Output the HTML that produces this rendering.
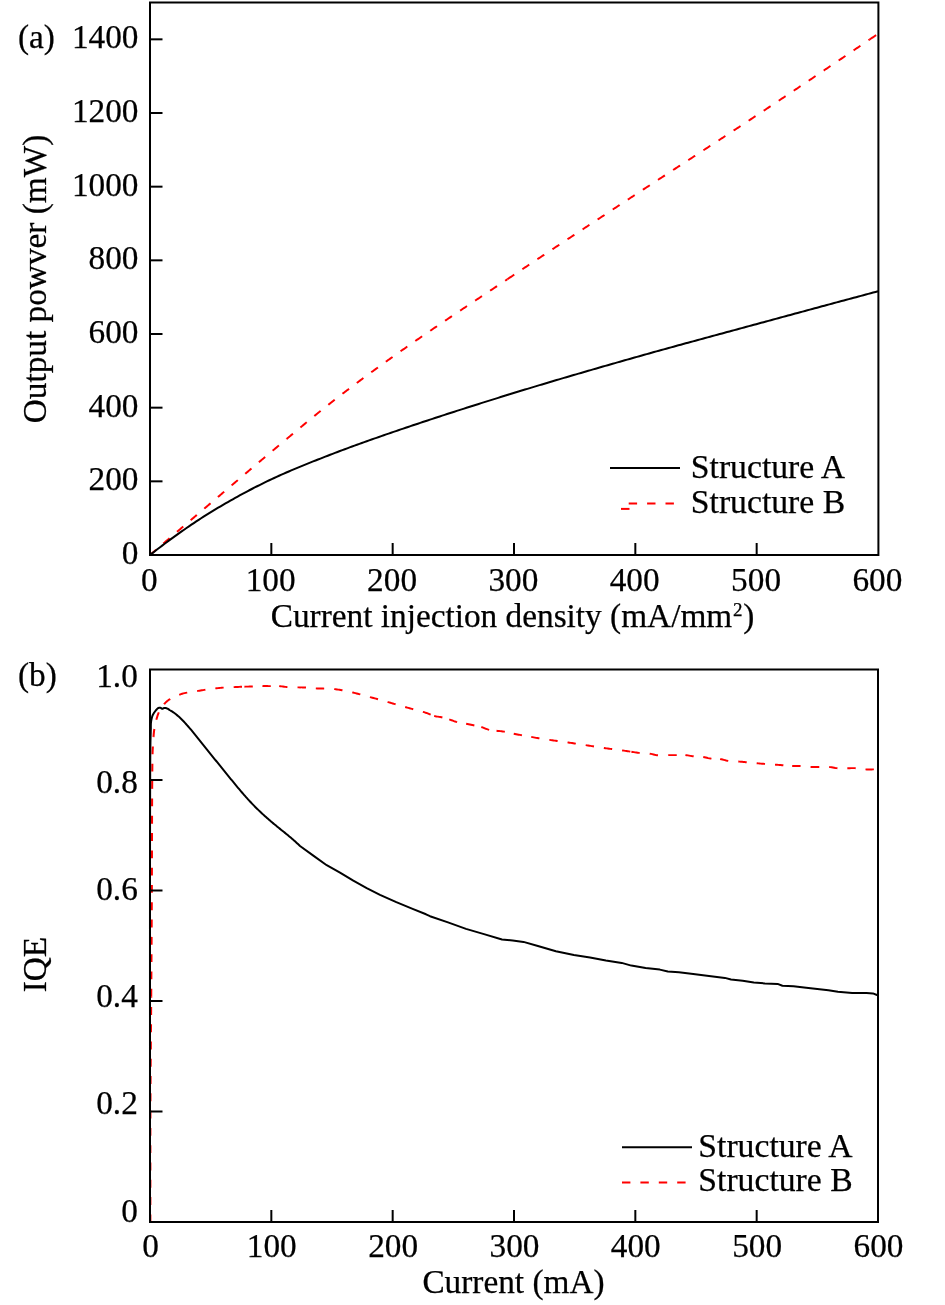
<!DOCTYPE html>
<html><head><meta charset="utf-8"><style>
html,body{margin:0;padding:0;background:#fff;width:945px;height:1305px;overflow:hidden}
</style></head><body>
<svg width="945" height="1305" viewBox="0 0 945 1305" style="position:absolute;left:0;top:0;will-change:transform">
<rect width="945" height="1305" fill="#fff"/>
<g font-family="'Liberation Serif', serif" font-size="33.3" fill="#000" stroke="#000" stroke-width="0.25">
<g transform="scale(1.0222,0.9611)" fill="none" stroke="#ff0000" stroke-width="2.0" stroke-dasharray="8.2 9.8">
<path d="M146.74,577.46 L147.48,576.78 L148.23,576.11 L148.97,575.43 L149.71,574.75 L150.45,574.07 L151.19,573.39 L151.94,572.71 L152.68,572.03 L153.42,571.35 L154.16,570.68 L154.91,570.00 L155.65,569.32 L156.39,568.64 L157.13,567.96 L157.88,567.28 L158.62,566.61 L159.36,565.93 L160.10,565.25 L160.85,564.57 L161.59,563.90 L162.33,563.22 L163.08,562.54 L163.82,561.86 L164.56,561.19 L165.31,560.51 L166.05,559.83 L166.79,559.16 L167.54,558.48 L168.28,557.80 L169.02,557.12 L169.77,556.45 L170.51,555.77 L171.26,555.10 L172.00,554.42 L172.74,553.74 L173.49,553.07 L174.23,552.39 L174.98,551.71 L175.72,551.04 L176.47,550.36 L177.21,549.69 L177.95,549.01 L178.70,548.34 L179.44,547.66 L180.19,546.98 L180.93,546.31 L181.68,545.63 L182.42,544.96 L183.17,544.28 L183.92,543.61 L184.66,542.94 L185.41,542.26 L186.15,541.59 L186.90,540.91 L187.64,540.24 L188.39,539.56 L189.13,538.89 L189.88,538.22 L190.63,537.54 L191.37,536.87 L192.12,536.19 L192.86,535.52 L193.61,534.85 L194.36,534.17 L195.10,533.50 L195.85,532.82 L196.60,532.15 L197.34,531.48 L198.09,530.80 L198.83,530.13 L199.58,529.46 L200.33,528.78 L201.07,528.11 L201.82,527.44 L202.57,526.76 L203.31,526.09 L204.06,525.42 L204.80,524.74 L205.55,524.07 L206.30,523.39 L207.04,522.72 L207.79,522.05 L208.53,521.37 L209.28,520.70 L210.03,520.02 L210.77,519.35 L211.52,518.68 L212.26,518.00 L213.01,517.33 L213.75,516.65 L214.50,515.98 L215.24,515.30 L215.99,514.63 L216.74,513.95 L217.48,513.28 L218.23,512.60 L218.97,511.93 L219.72,511.25 L220.46,510.58 L221.21,509.90 L221.95,509.23 L222.70,508.55 L223.44,507.88 L224.19,507.20 L224.93,506.53 L225.68,505.85 L226.42,505.18 L227.17,504.50 L227.91,503.83 L228.66,503.15 L229.40,502.48 L230.15,501.80 L230.89,501.13 L231.64,500.45 L232.38,499.78 L233.13,499.10 L233.87,498.43 L234.62,497.76 L235.37,497.08 L236.11,496.41 L236.86,495.73 L237.60,495.06 L238.35,494.38 L239.09,493.71 L239.84,493.04 L240.59,492.36 L241.33,491.69 L242.08,491.02 L242.83,490.34 L243.57,489.67 L244.32,489.00 L245.06,488.32 L245.81,487.65 L246.56,486.98 L247.31,486.30 L248.05,485.63 L248.80,484.96 L249.55,484.29 L250.30,483.62 L251.04,482.94 L251.79,482.27 L252.54,481.60 L253.29,480.93" stroke-dashoffset="0.23"/>
<path d="M253.29,480.93 L254.04,480.26 L254.78,479.59 L255.53,478.92 L256.28,478.25 L257.03,477.58 L257.78,476.91 L258.53,476.24 L259.28,475.57 L260.03,474.90 L260.78,474.23 L261.53,473.56 L262.28,472.89 L263.03,472.22 L263.78,471.56 L264.53,470.89 L265.28,470.22 L266.03,469.55 L266.78,468.89" stroke-dashoffset="0.00"/>
<path d="M266.78,468.89 L267.53,468.22 L268.29,467.55 L269.04,466.88 L269.79,466.21 L270.54,465.55 L271.29,464.88 L272.04,464.21 L272.79,463.54 L273.54,462.87 L274.29,462.20 L275.04,461.53 L275.79,460.87 L276.54,460.20 L277.29,459.53 L278.04,458.86 L278.79,458.19 L279.54,457.52 L280.29,456.85 L280.48,456.69" stroke-dashoffset="0.00"/>
<path d="M280.48,456.69 L281.23,456.02 L281.98,455.35 L282.73,454.68 L283.48,454.01 L284.23,453.34 L284.98,452.67 L285.73,452.01 L286.48,451.34 L287.23,450.67 L287.98,450.00 L288.73,449.34 L289.48,448.67 L290.24,448.00 L290.99,447.34 L291.74,446.67 L292.49,446.00 L293.24,445.34 L294.00,444.67 L294.75,444.01 L295.50,443.34 L296.26,442.68 L297.01,442.01 L297.76,441.35 L298.52,440.68 L299.27,440.02 L300.03,439.36 L300.78,438.70 L301.54,438.03 L302.29,437.37 L303.05,436.71 L303.81,436.05 L304.56,435.39 L305.32,434.73 L306.08,434.07 L306.84,433.42 L307.59,432.76 L308.35,432.10 L309.11,431.44 L309.87,430.79 L310.63,430.13 L311.39,429.48 L312.16,428.82 L312.92,428.17 L313.68,427.52 L314.44,426.87 L315.21,426.21 L315.97,425.56 L316.74,424.91 L317.50,424.26 L318.27,423.62 L319.03,422.97 L319.80,422.32 L320.57,421.68 L321.34,421.03 L322.10,420.39 L322.87,419.74 L323.64,419.10 L324.42,418.46 L325.19,417.82 L325.96,417.18 L326.73,416.54 L327.50,415.90 L328.28,415.26 L329.05,414.63 L329.83,413.99 L330.60,413.35 L331.38,412.72 L332.15,412.08 L332.93,411.45 L333.70,410.82 L334.48,410.18 L335.26,409.55 L336.04,408.92 L336.81,408.29 L337.59,407.66 L338.37,407.03 L339.15,406.40 L339.93,405.77 L340.71,405.14 L341.49,404.51 L342.27,403.88 L343.05,403.25 L343.84,402.63 L344.62,402.00 L345.40,401.38 L346.18,400.75 L346.97,400.13 L347.75,399.50 L348.53,398.88 L349.32,398.26 L350.10,397.64 L350.89,397.01 L351.67,396.39 L352.46,395.77 L353.24,395.15 L354.03,394.53 L354.82,393.91 L355.60,393.29 L356.39,392.67 L357.18,392.06 L357.97,391.44 L358.76,390.82 L359.55,390.21 L360.33,389.59 L361.12,388.98 L361.91,388.36 L362.70,387.75 L363.49,387.13 L364.28,386.52 L365.08,385.91 L365.87,385.29 L366.66,384.68 L367.45,384.07 L368.24,383.46 L369.03,382.85 L369.83,382.24 L370.62,381.63 L371.41,381.02 L372.21,380.41 L373.00,379.80 L373.80,379.19 L374.59,378.58 L375.38,377.97 L376.18,377.37 L376.97,376.76 L377.77,376.15 L378.57,375.55 L379.36,374.94 L380.16,374.34 L380.95,373.73 L381.75,373.13 L382.55,372.52 L383.35,371.92 L384.14,371.31 L384.94,370.71 L385.74,370.11 L386.54,369.51 L387.54,368.75 L388.53,368.00 L389.53,367.25 L390.53,366.50 L391.53,365.75 L392.53,365.00 L393.54,364.26 L394.54,363.51 L395.54,362.76 L396.54,362.02 L397.54,361.27 L398.55,360.53 L399.55,359.78 L400.56,359.04 L401.56,358.30 L402.57,357.55 L403.57,356.81 L404.58,356.07 L405.58,355.33 L406.59,354.59 L407.60,353.85 L408.60,353.11 L409.61,352.37 L410.62,351.64 L411.63,350.90 L412.64,350.16 L413.64,349.43 L414.65,348.69 L415.66,347.96 L416.67,347.22 L417.68,346.49 L418.69,345.75 L419.70,345.02 L420.72,344.29 L421.73,343.56 L422.74,342.82 L423.75,342.09 L424.76,341.36 L425.78,340.63 L426.79,339.90 L427.80,339.17 L428.81,338.44 L429.83,337.71 L430.84,336.99 L431.86,336.26 L432.87,335.53 L433.89,334.80 L434.90,334.08 L435.92,333.35 L436.93,332.62 L437.95,331.90 L438.96,331.17 L439.98,330.45 L440.99,329.72 L442.01,329.00 L443.03,328.27 L444.04,327.55 L445.06,326.83 L446.08,326.10 L447.09,325.38 L448.11,324.66 L449.13,323.93 L450.15,323.21 L451.16,322.49 L452.18,321.77 L453.20,321.04 L454.22,320.32 L455.24,319.60 L456.25,318.88 L457.27,318.16 L458.29,317.44 L459.31,316.72 L460.33,316.00 L461.35,315.28 L462.36,314.56 L463.38,313.84 L464.40,313.11 L465.42,312.39 L466.44,311.67 L467.46,310.95 L468.48,310.23 L469.50,309.51 L470.52,308.79 L471.54,308.07 L472.56,307.36 L473.58,306.64 L474.59,305.92 L475.61,305.20 L476.63,304.48 L477.65,303.76 L478.67,303.04 L479.69,302.32 L480.71,301.60 L481.73,300.88 L482.75,300.16 L483.77,299.44 L484.79,298.72 L485.81,298.00 L486.82,297.28 L487.84,296.56 L488.86,295.84 L489.88,295.12 L490.90,294.40 L491.92,293.67 L492.94,292.95 L493.96,292.23 L494.97,291.51 L495.99,290.79 L496.40,290.50" stroke-dashoffset="0.00"/>
<path d="M496.40,290.50 L497.42,289.78 L498.43,289.06 L499.45,288.33 L500.47,287.61 L501.49,286.89 L502.51,286.17 L503.52,285.44 L504.54,284.72 L505.56,284.00 L506.57,283.28 L507.59,282.55 L508.61,281.83 L509.63,281.11 L510.65,280.39 L511.05,280.10" stroke-dashoffset="0.00"/>
<path d="M511.05,280.10 L512.07,279.38 L513.09,278.66 L514.11,277.94 L515.13,277.21 L516.14,276.49 L517.16,275.77 L518.18,275.05 L519.20,274.33 L520.22,273.61 L521.24,272.89 L522.26,272.17 L523.28,271.45 L524.30,270.73 L525.31,270.01 L526.33,269.29 L527.35,268.57 L528.37,267.85 L529.39,267.13 L530.41,266.41 L531.43,265.69 L532.45,264.97 L533.47,264.26 L534.49,263.54 L535.51,262.82 L536.53,262.10 L537.55,261.38 L538.57,260.66 L539.59,259.94 L540.61,259.23 L541.63,258.51 L542.65,257.79 L543.67,257.07 L544.69,256.36 L545.71,255.64 L546.74,254.92 L547.76,254.20 L548.78,253.49 L549.80,252.77 L550.82,252.05 L551.84,251.33 L552.86,250.62 L553.88,249.90 L554.90,249.18 L555.92,248.47 L556.95,247.75 L557.97,247.03 L558.99,246.32 L560.01,245.60 L561.03,244.89 L562.05,244.17 L563.07,243.45 L564.10,242.74 L565.12,242.02 L566.14,241.31 L567.16,240.59 L568.18,239.87 L569.20,239.16 L570.23,238.44 L571.25,237.73 L572.27,237.01 L573.29,236.30 L574.31,235.58 L575.34,234.87 L576.36,234.15 L577.38,233.44 L578.40,232.72 L579.42,232.00 L580.45,231.29 L581.47,230.57 L582.49,229.86 L583.51,229.14 L584.54,228.43 L585.56,227.72 L586.58,227.00 L587.60,226.29 L588.62,225.57 L589.65,224.86 L590.67,224.14 L591.69,223.43 L592.71,222.71 L593.74,222.00 L594.76,221.28 L595.78,220.57 L596.80,219.85 L597.83,219.14 L598.85,218.43 L599.87,217.71 L600.89,217.00 L601.92,216.28 L602.94,215.57 L603.96,214.85 L604.98,214.14 L606.01,213.42 L607.03,212.71 L608.05,212.00 L609.08,211.28 L610.10,210.57 L611.12,209.85 L612.14,209.14 L613.17,208.42 L614.19,207.71 L615.21,206.99 L616.23,206.28 L617.26,205.57 L618.28,204.85 L619.30,204.14 L620.32,203.42 L621.35,202.71 L622.37,201.99 L623.39,201.28 L624.41,200.57 L625.44,199.85 L626.46,199.14 L627.48,198.43 L628.51,197.71 L629.53,197.00 L630.55,196.29 L631.58,195.57 L632.60,194.86 L633.63,194.15 L634.65,193.44 L635.67,192.72 L636.70,192.01 L637.72,191.30 L638.75,190.59 L639.77,189.88 L640.79,189.17 L641.82,188.46 L642.84,187.74 L643.87,187.03 L644.89,186.32 L645.92,185.61 L646.94,184.90 L647.97,184.19 L648.99,183.48 L650.02,182.77 L651.04,182.06 L652.07,181.35 L653.09,180.64 L654.12,179.93 L655.14,179.22 L656.17,178.51 L657.20,177.80 L658.22,177.09 L659.25,176.38 L660.27,175.67 L661.30,174.96 L662.32,174.25 L663.35,173.54 L664.37,172.83 L665.40,172.12 L666.43,171.41 L667.45,170.70 L668.48,170.00 L669.50,169.29 L670.53,168.58 L671.55,167.87 L672.58,167.16 L673.61,166.45 L674.63,165.74 L675.66,165.03 L676.68,164.32 L677.71,163.61 L678.73,162.90 L679.76,162.19 L680.79,161.48 L681.81,160.77 L682.84,160.06 L683.86,159.35 L684.89,158.64 L685.91,157.94 L686.94,157.23 L687.96,156.52 L688.99,155.81 L690.01,155.10 L691.04,154.39 L692.06,153.68 L693.09,152.97 L694.12,152.25 L695.14,151.54 L696.17,150.83 L697.19,150.12 L698.21,149.41 L699.24,148.70 L700.26,147.99 L701.29,147.28 L702.31,146.57 L703.34,145.86 L704.36,145.15 L705.39,144.43 L706.41,143.72 L707.44,143.01 L708.46,142.30 L709.48,141.59 L710.51,140.87 L711.53,140.16 L712.55,139.45 L713.58,138.74 L714.60,138.02 L715.62,137.31 L716.65,136.60 L717.67,135.88 L718.69,135.17 L719.72,134.45 L720.74,133.74 L721.76,133.03 L722.78,132.31 L723.81,131.60 L724.83,130.88 L725.85,130.17 L726.87,129.45 L727.89,128.74 L728.92,128.02 L729.94,127.30 L730.96,126.59 L731.98,125.87 L733.00,125.15 L734.02,124.44 L735.04,123.72 L736.06,123.00 L737.08,122.28 L738.10,121.56 L739.12,120.85 L740.14,120.13 L741.16,119.41 L742.18,118.69 L743.20,117.97 L744.22,117.25 L745.24,116.53 L746.26,115.81 L747.28,115.09 L748.30,114.37 L749.32,113.65 L750.34,112.93 L751.36,112.21 L752.38,111.49 L753.39,110.77 L754.41,110.05 L755.43,109.33 L756.45,108.61 L757.47,107.89 L758.49,107.17 L759.51,106.45 L760.52,105.72 L761.54,105.00 L762.56,104.28 L763.58,103.56 L764.60,102.84 L765.61,102.12 L766.63,101.39 L767.65,100.67 L768.67,99.95 L769.68,99.23 L770.70,98.50 L771.72,97.78 L772.74,97.06 L773.75,96.34 L774.77,95.61 L775.79,94.89 L776.81,94.17 L777.82,93.44 L778.84,92.72 L779.86,91.99 L780.87,91.27 L781.89,90.55 L782.91,89.82 L783.92,89.10 L784.94,88.37 L785.96,87.65 L786.97,86.93 L787.99,86.20 L789.00,85.48 L790.02,84.75 L791.04,84.03 L792.05,83.30 L793.07,82.58 L794.08,81.85 L795.10,81.12 L796.11,80.40 L797.13,79.67 L798.15,78.95 L799.16,78.22 L800.18,77.50 L801.19,76.77 L802.21,76.04 L803.22,75.32 L804.24,74.59 L805.25,73.86 L806.27,73.14 L807.28,72.41 L808.30,71.68 L809.31,70.95 L810.32,70.23 L811.34,69.50 L812.35,68.77 L813.37,68.04 L814.38,67.32 L815.40,66.59 L816.41,65.86 L817.42,65.13 L818.44,64.40 L819.45,63.68 L820.47,62.95 L821.48,62.22 L822.49,61.49 L823.51,60.76 L824.52,60.03 L825.53,59.30 L826.55,58.57 L827.56,57.84 L828.57,57.12 L829.59,56.39 L830.60,55.66 L831.61,54.93 L832.62,54.20 L833.64,53.47 L834.65,52.74 L835.66,52.01 L836.67,51.28 L837.69,50.54 L838.70,49.81 L839.71,49.08 L840.72,48.35 L841.74,47.62 L842.75,46.89 L843.76,46.16 L844.77,45.43 L845.78,44.70 L846.80,43.96 L847.81,43.23 L848.82,42.50 L849.83,41.77 L850.44,41.33" stroke-dashoffset="0.00"/>
<path d="M850.44,41.33 L851.45,40.60 L852.46,39.87 L853.47,39.13 L854.48,38.40 L855.49,37.67 L856.51,36.94 L857.52,36.20 L858.53,35.47 L858.93,35.18" stroke-dashoffset="0.00"/>
</g>
<path d="M150.00,555.00 L152.43,553.10 L154.87,551.21 L157.30,549.33 L159.74,547.47 L162.17,545.62 L164.61,543.79 L167.04,541.97 L169.48,540.17 L171.91,538.39 L174.35,536.62 L176.78,534.87 L179.22,533.13 L181.65,531.41 L184.09,529.70 L186.52,528.02 L188.96,526.35 L191.39,524.70 L193.83,523.06 L196.26,521.45 L198.70,519.85 L201.13,518.27 L203.57,516.71 L206.00,515.17 L208.43,513.65 L210.87,512.15 L213.30,510.66 L215.74,509.19 L218.17,507.73 L220.61,506.29 L223.04,504.85 L225.48,503.43 L227.91,502.03 L230.35,500.64 L232.78,499.26 L235.22,497.90 L237.65,496.55 L240.09,495.21 L242.52,493.89 L244.96,492.58 L247.39,491.28 L249.83,490.00 L252.26,488.74 L254.70,487.48 L257.13,486.25 L259.57,485.02 L262.00,483.81 L264.43,482.62 L266.87,481.44 L269.30,480.27 L271.74,479.12 L274.17,477.98 L276.61,476.86 L279.04,475.75 L281.48,474.66 L283.91,473.58 L286.35,472.51 L288.78,471.46 L291.22,470.41 L293.65,469.38 L296.09,468.36 L298.52,467.34 L300.96,466.34 L303.39,465.34 L305.83,464.36 L308.26,463.38 L310.70,462.40 L313.13,461.44 L315.57,460.47 L318.00,459.52 L320.43,458.56 L322.87,457.61 L325.30,456.67 L327.74,455.72 L330.17,454.78 L332.61,453.84 L335.04,452.91 L337.48,451.98 L339.91,451.05 L342.35,450.14 L344.78,449.23 L347.22,448.32 L349.65,447.42 L352.09,446.52 L354.52,445.63 L356.96,444.75 L359.39,443.87 L361.83,442.99 L364.26,442.12 L366.70,441.25 L369.13,440.39 L371.57,439.53 L374.00,438.67 L376.43,437.82 L378.87,436.97 L381.30,436.12 L383.74,435.28 L386.17,434.43 L388.61,433.59 L391.04,432.76 L393.48,431.92 L395.91,431.09 L398.35,430.25 L400.78,429.42 L403.22,428.60 L405.65,427.77 L408.09,426.95 L410.52,426.13 L412.96,425.31 L415.39,424.50 L417.83,423.68 L420.26,422.87 L422.70,422.06 L425.13,421.25 L427.57,420.44 L430.00,419.64 L432.43,418.84 L434.87,418.04 L437.30,417.24 L439.74,416.44 L442.17,415.65 L444.61,414.86 L447.04,414.06 L449.48,413.28 L451.91,412.49 L454.35,411.70 L456.78,410.92 L459.22,410.14 L461.65,409.36 L464.09,408.58 L466.52,407.80 L468.96,407.02 L471.39,406.25 L473.83,405.48 L476.26,404.71 L478.70,403.94 L481.13,403.17 L483.57,402.40 L486.00,401.64 L488.43,400.87 L490.87,400.11 L493.30,399.35 L495.74,398.59 L498.17,397.83 L500.61,397.07 L503.04,396.32 L505.48,395.56 L507.91,394.81 L510.35,394.06 L512.78,393.31 L515.22,392.56 L517.65,391.81 L520.09,391.07 L522.52,390.32 L524.96,389.58 L527.39,388.84 L529.83,388.10 L532.26,387.36 L534.70,386.63 L537.13,385.89 L539.57,385.16 L542.00,384.43 L544.43,383.70 L546.87,382.97 L549.30,382.24 L551.74,381.52 L554.17,380.79 L556.61,380.07 L559.04,379.35 L561.48,378.63 L563.91,377.91 L566.35,377.20 L568.78,376.48 L571.22,375.77 L573.65,375.05 L576.09,374.34 L578.52,373.63 L580.96,372.92 L583.39,372.21 L585.83,371.50 L588.26,370.80 L590.70,370.09 L593.13,369.39 L595.57,368.68 L598.00,367.98 L600.43,367.28 L602.87,366.58 L605.30,365.88 L607.74,365.18 L610.17,364.48 L612.61,363.79 L615.04,363.09 L617.48,362.39 L619.91,361.70 L622.35,361.01 L624.78,360.31 L627.22,359.62 L629.65,358.93 L632.09,358.24 L634.52,357.55 L636.96,356.86 L639.39,356.17 L641.83,355.48 L644.26,354.80 L646.70,354.11 L649.13,353.43 L651.57,352.75 L654.00,352.07 L656.43,351.39 L658.87,350.71 L661.30,350.04 L663.74,349.36 L666.17,348.69 L668.61,348.02 L671.04,347.34 L673.48,346.67 L675.91,346.00 L678.35,345.34 L680.78,344.67 L683.22,344.00 L685.65,343.34 L688.09,342.67 L690.52,342.01 L692.96,341.34 L695.39,340.68 L697.83,340.02 L700.26,339.35 L702.70,338.69 L705.13,338.03 L707.57,337.37 L710.00,336.71 L712.43,336.05 L714.87,335.39 L717.30,334.73 L719.74,334.07 L722.17,333.41 L724.61,332.75 L727.04,332.09 L729.48,331.43 L731.91,330.77 L734.35,330.11 L736.78,329.45 L739.22,328.79 L741.65,328.13 L744.09,327.47 L746.52,326.81 L748.96,326.15 L751.39,325.49 L753.83,324.83 L756.26,324.17 L758.70,323.50 L761.13,322.84 L763.57,322.18 L766.00,321.52 L768.43,320.85 L770.87,320.19 L773.30,319.53 L775.74,318.87 L778.17,318.21 L780.61,317.55 L783.04,316.89 L785.48,316.23 L787.91,315.57 L790.35,314.91 L792.78,314.25 L795.22,313.59 L797.65,312.93 L800.09,312.27 L802.52,311.61 L804.96,310.95 L807.39,310.29 L809.83,309.63 L812.26,308.98 L814.70,308.32 L817.13,307.66 L819.57,307.00 L822.00,306.34 L824.43,305.69 L826.87,305.03 L829.30,304.37 L831.74,303.72 L834.17,303.06 L836.61,302.40 L839.04,301.75 L841.48,301.09 L843.91,300.43 L846.35,299.78 L848.78,299.12 L851.22,298.47 L853.65,297.81 L856.09,297.16 L858.52,296.50 L860.96,295.85 L863.39,295.19 L865.83,294.54 L868.26,293.89 L870.70,293.23 L873.13,292.58 L875.57,291.93 L878.00,291.27" fill="none" stroke="#000" stroke-width="2" stroke-linejoin="round"/>
<rect x="150.0" y="2.5" width="728.4" height="552.5" fill="none" stroke="#000" stroke-width="2"/>
<line x1="150.0" y1="481.33" x2="162.5" y2="481.33" stroke="#000" stroke-width="2"/>
<line x1="150.0" y1="407.67" x2="162.5" y2="407.67" stroke="#000" stroke-width="2"/>
<line x1="150.0" y1="334.00" x2="162.5" y2="334.00" stroke="#000" stroke-width="2"/>
<line x1="150.0" y1="260.33" x2="162.5" y2="260.33" stroke="#000" stroke-width="2"/>
<line x1="150.0" y1="186.67" x2="162.5" y2="186.67" stroke="#000" stroke-width="2"/>
<line x1="150.0" y1="113.00" x2="162.5" y2="113.00" stroke="#000" stroke-width="2"/>
<line x1="150.0" y1="39.33" x2="162.5" y2="39.33" stroke="#000" stroke-width="2"/>
<line x1="271.33" y1="555.0" x2="271.33" y2="543.0" stroke="#000" stroke-width="2"/>
<line x1="392.67" y1="555.0" x2="392.67" y2="543.0" stroke="#000" stroke-width="2"/>
<line x1="514.00" y1="555.0" x2="514.00" y2="543.0" stroke="#000" stroke-width="2"/>
<line x1="635.33" y1="555.0" x2="635.33" y2="543.0" stroke="#000" stroke-width="2"/>
<line x1="756.67" y1="555.0" x2="756.67" y2="543.0" stroke="#000" stroke-width="2"/>
<text x="138.5" y="564.0" text-anchor="end">0</text>
<text x="138.5" y="490.3" text-anchor="end">200</text>
<text x="138.5" y="416.7" text-anchor="end">400</text>
<text x="138.5" y="343.0" text-anchor="end">600</text>
<text x="138.5" y="269.3" text-anchor="end">800</text>
<text x="138.5" y="195.7" text-anchor="end">1000</text>
<text x="138.5" y="122.0" text-anchor="end">1200</text>
<text x="138.5" y="48.3" text-anchor="end">1400</text>
<text x="149.4" y="591" text-anchor="middle">0</text>
<text x="270.7" y="591" text-anchor="middle">100</text>
<text x="392.1" y="591" text-anchor="middle">200</text>
<text x="513.4" y="591" text-anchor="middle">300</text>
<text x="634.7" y="591" text-anchor="middle">400</text>
<text x="756.1" y="591" text-anchor="middle">500</text>
<text x="877.4" y="591" text-anchor="middle">600</text>
<text x="18" y="48">(a)</text>
<text x="512.5" y="626.5" text-anchor="middle">Current injection density (mA/mm<tspan font-size="19" dx="0.9" dy="-10.8">2</tspan><tspan dx="0.6" dy="10.8">)</tspan></text>
<text transform="translate(46,279) rotate(-90) scale(1,1.03)" text-anchor="middle" >Output powver (mW)</text>
<line x1="610" y1="468.1" x2="680" y2="468.1" stroke="#000" stroke-width="2"/>
<line x1="621" y1="508.9" x2="629.5" y2="508.9" stroke="#ff0000" stroke-width="2"/>
<line x1="628.7" y1="503.4" x2="680" y2="503.4" stroke="#ff0000" stroke-width="2" stroke-dasharray="8.4 10"/>
<text x="690.8" y="478" font-size="33.7">Structure A</text>
<text x="690.8" y="512.6" font-size="33.7">Structure B</text>
<g transform="scale(1.0222,0.9611)" fill="none" stroke="#ff0000" stroke-width="2.0" stroke-dasharray="8.2 9.8">
<path d="M147.08,1271.46 L147.09,1270.42 L147.09,1269.38 L147.09,1268.34 L147.09,1267.30 L147.09,1266.26 L147.09,1265.21 L147.09,1264.17 L147.09,1263.13 L147.09,1262.09 L147.09,1261.05 L147.09,1260.01 L147.09,1258.97 L147.09,1257.93 L147.09,1256.89 L147.09,1255.85 L147.09,1254.81 L147.09,1253.76 L147.09,1252.72 L147.09,1251.68 L147.09,1250.64 L147.09,1249.60 L147.09,1248.56 L147.09,1247.52 L147.09,1246.48 L147.09,1245.44 L147.09,1244.40 L147.09,1243.36 L147.09,1242.32 L147.09,1241.27 L147.09,1240.23 L147.09,1239.19 L147.09,1238.15 L147.09,1237.11 L147.09,1236.07 L147.09,1235.03 L147.09,1233.99 L147.09,1232.95 L147.09,1231.91 L147.09,1230.87 L147.09,1229.82 L147.09,1228.78 L147.09,1227.74 L147.09,1226.70 L147.09,1225.66 L147.09,1224.62 L147.09,1223.58 L147.09,1222.54 L147.09,1221.50 L147.09,1220.46 L147.09,1219.42 L147.09,1218.37 L147.09,1217.33 L147.09,1216.29 L147.09,1215.25 L147.09,1214.21 L147.09,1213.17 L147.09,1212.13 L147.09,1211.09 L147.09,1210.05 L147.09,1209.01 L147.09,1207.97 L147.09,1206.93 L147.09,1205.88 L147.09,1204.84 L147.09,1203.80 L147.09,1202.76 L147.09,1201.72 L147.09,1200.68 L147.09,1199.64 L147.09,1198.60 L147.09,1197.56 L147.09,1196.52 L147.09,1195.48 L147.09,1194.43 L147.09,1193.39 L147.09,1192.35 L147.09,1191.31 L147.09,1190.27 L147.09,1189.23 L147.09,1188.19 L147.09,1187.15 L147.09,1186.11 L147.10,1185.07 L147.10,1184.03 L147.10,1182.99 L147.10,1181.94 L147.10,1180.90 L147.10,1179.86 L147.10,1178.82 L147.10,1177.78 L147.10,1176.74 L147.11,1175.70 L147.11,1174.66 L147.11,1173.62 L147.11,1172.58 L147.11,1171.54 L147.11,1170.49 L147.12,1169.45 L147.12,1168.41 L147.12,1167.37 L147.12,1166.33 L147.12,1165.29 L147.12,1164.25 L147.13,1163.21 L147.13,1162.17 L147.13,1161.13 L147.13,1160.09 L147.14,1159.04 L147.14,1158.00 L147.14,1156.96 L147.15,1155.92 L147.15,1154.88 L147.15,1153.84 L147.15,1152.80 L147.16,1151.76 L147.16,1150.72 L147.17,1149.68 L147.17,1148.64 L147.17,1147.60 L147.18,1146.55 L147.18,1145.77" stroke-dashoffset="0.31"/>
<path d="M147.18,1145.77 L147.18,1144.73 L147.19,1143.69 L147.19,1142.65 L147.20,1141.61 L147.20,1140.57 L147.20,1139.53 L147.21,1138.49 L147.21,1137.45 L147.22,1136.41 L147.22,1135.37 L147.23,1134.32 L147.23,1133.28 L147.24,1132.24 L147.25,1131.20 L147.25,1130.16 L147.26,1129.12 L147.26,1128.08 L147.26,1127.82" stroke-dashoffset="0.00"/>
<path d="M147.26,1127.82 L147.27,1126.78 L147.28,1125.74 L147.28,1124.70 L147.29,1123.66 L147.30,1122.61 L147.30,1121.57 L147.31,1120.53 L147.32,1119.49 L147.32,1118.45 L147.33,1117.41 L147.34,1116.37 L147.34,1115.33 L147.35,1114.29 L147.36,1113.25 L147.37,1112.21 L147.37,1111.17 L147.38,1110.12 L147.38,1109.86" stroke-dashoffset="0.00"/>
<path d="M147.38,1109.86 L147.39,1108.82 L147.40,1107.78 L147.40,1106.74 L147.41,1105.70 L147.42,1104.66 L147.43,1103.62 L147.44,1102.58 L147.44,1101.54 L147.45,1100.50 L147.46,1099.46 L147.47,1098.41 L147.48,1097.37 L147.48,1096.33 L147.49,1095.29 L147.50,1094.25 L147.51,1093.21 L147.52,1092.17 L147.52,1091.91" stroke-dashoffset="0.00"/>
<path d="M147.52,1091.91 L147.53,1090.87 L147.54,1089.83 L147.55,1088.79 L147.55,1087.75 L147.56,1086.71 L147.57,1085.66 L147.58,1084.62 L147.59,1083.58 L147.60,1082.54 L147.60,1081.50 L147.61,1080.46 L147.62,1079.42 L147.63,1078.38 L147.64,1077.34 L147.65,1076.30 L147.66,1075.26 L147.66,1074.22 L147.67,1073.96" stroke-dashoffset="0.00"/>
<path d="M147.67,1073.96 L147.67,1072.91 L147.68,1071.87 L147.69,1070.83 L147.70,1069.79 L147.71,1068.75 L147.72,1067.71 L147.73,1066.67 L147.73,1065.63 L147.74,1064.59 L147.75,1063.55 L147.76,1062.51 L147.77,1061.46 L147.77,1060.42 L147.78,1059.38 L147.79,1058.34 L147.80,1057.30 L147.81,1056.26 L147.81,1056.00" stroke-dashoffset="0.00"/>
<path d="M147.81,1056.00 L147.82,1054.96 L147.82,1053.92 L147.83,1052.88 L147.84,1051.84 L147.85,1050.80 L147.85,1049.76 L147.86,1048.71 L147.87,1047.67 L147.87,1046.63 L147.88,1045.59 L147.89,1044.55 L147.90,1043.51 L147.90,1042.47 L147.91,1041.43 L147.92,1040.39 L147.92,1039.35 L147.93,1038.31 L147.94,1037.27 L147.94,1037.00" stroke-dashoffset="0.00"/>
<path d="M147.94,1037.00 L147.94,1035.96 L147.95,1034.92 L147.96,1033.88 L147.96,1032.84 L147.97,1031.80 L147.98,1030.76 L147.98,1029.72 L147.99,1028.68 L148.00,1027.64 L148.00,1026.60 L148.01,1025.56 L148.02,1024.51 L148.02,1023.47 L148.03,1022.43 L148.04,1021.39 L148.04,1020.35 L148.05,1019.31 L148.06,1018.27 L148.06,1017.23 L148.07,1016.19 L148.08,1015.15 L148.08,1014.11 L148.09,1013.07 L148.10,1012.02 L148.10,1010.98 L148.11,1009.94 L148.11,1008.90 L148.12,1007.86 L148.13,1006.82 L148.13,1005.78 L148.14,1004.74 L148.15,1003.70 L148.15,1002.66 L148.16,1001.62 L148.17,1000.58 L148.17,999.53 L148.18,998.49 L148.18,997.45 L148.19,996.41 L148.20,995.37 L148.20,994.33 L148.21,993.29 L148.21,992.25 L148.22,991.21 L148.23,990.17 L148.23,989.13 L148.24,988.08 L148.25,987.04 L148.25,986.00 L148.26,984.96 L148.26,983.92 L148.27,982.88 L148.28,981.84 L148.28,980.80 L148.29,979.76 L148.29,978.72 L148.30,977.68 L148.30,976.64 L148.31,975.59 L148.32,974.55 L148.32,973.51 L148.33,972.47 L148.33,971.43 L148.34,970.39 L148.34,969.35 L148.35,968.31 L148.36,967.27 L148.36,966.23 L148.37,965.19 L148.37,964.14 L148.38,963.10 L148.38,962.06 L148.39,961.02 L148.39,959.98 L148.40,958.94 L148.40,957.90 L148.41,956.86 L148.41,955.82 L148.42,954.78 L148.42,953.74 L148.43,952.70 L148.43,951.65 L148.44,950.61 L148.44,949.57 L148.45,948.53 L148.45,947.49 L148.46,946.45 L148.46,945.41 L148.47,944.37 L148.47,943.33 L148.48,942.29 L148.48,941.25 L148.49,940.21 L148.49,939.16 L148.50,938.12 L148.50,937.08 L148.50,936.04 L148.51,935.00 L148.51,933.96 L148.52,932.92 L148.52,931.88 L148.52,930.84 L148.53,929.80 L148.53,928.76 L148.54,927.71 L148.54,926.67 L148.54,925.63 L148.55,924.59 L148.55,923.55 L148.55,922.51 L148.56,921.47 L148.56,920.43 L148.56,919.39 L148.57,918.35 L148.57,917.31 L148.57,916.26 L148.58,915.22 L148.58,914.18 L148.58,913.14 L148.59,912.10 L148.59,911.06 L148.59,910.02 L148.60,908.98 L148.60,907.94 L148.60,906.90 L148.60,905.86 L148.61,904.82 L148.61,903.77 L148.61,902.73 L148.61,901.69 L148.62,900.65 L148.62,899.61 L148.62,898.57 L148.62,897.53 L148.63,896.49 L148.63,895.45 L148.63,894.41 L148.63,893.37 L148.64,892.32 L148.64,891.28 L148.64,890.24 L148.64,889.20 L148.65,888.16 L148.65,887.12 L148.65,886.08 L148.65,885.04 L148.66,884.00 L148.66,882.96 L148.66,881.92 L148.66,880.88 L148.66,879.83 L148.67,878.79 L148.67,877.75 L148.67,876.71 L148.67,875.67 L148.68,874.63 L148.68,873.59 L148.68,872.55 L148.68,871.51 L148.69,870.47 L148.69,869.43 L148.69,868.38 L148.69,867.34 L148.70,866.30 L148.70,865.26 L148.70,864.22 L148.70,863.18 L148.70,862.14 L148.71,861.10 L148.71,860.06 L148.71,859.02 L148.71,857.98 L148.72,856.94 L148.72,855.89 L148.72,854.85 L148.73,853.81 L148.73,852.77 L148.73,851.73 L148.73,850.69 L148.74,849.65 L148.74,848.61 L148.74,847.57 L148.75,846.53 L148.75,845.49 L148.75,844.44 L148.76,843.40 L148.76,842.36 L148.76,841.32 L148.77,840.28 L148.77,839.24 L148.77,838.20 L148.78,837.16 L148.78,836.12 L148.79,835.08 L148.79,834.04 L148.79,832.99 L148.80,831.95 L148.80,830.91 L148.81,829.87 L148.81,828.83 L148.82,827.79 L148.82,826.75 L148.83,825.71 L148.83,824.67 L148.84,823.63 L148.84,822.59 L148.85,821.55 L148.85,820.76" stroke-dashoffset="0.00"/>
<path d="M148.85,820.76 L148.86,819.72 L148.86,818.68 L148.87,817.64 L148.87,816.60 L148.88,815.56 L148.88,814.52 L148.89,813.48 L148.90,812.44 L148.90,811.40 L148.91,810.36 L148.92,809.32 L148.93,808.27 L148.93,807.23 L148.94,806.19 L148.95,805.15 L148.96,804.11 L148.97,803.07 L148.98,802.81" stroke-dashoffset="0.00"/>
<path d="M148.98,802.81 L148.99,801.77 L149.00,800.73 L149.01,799.69 L149.02,798.65 L149.03,797.61 L149.04,796.57 L149.05,795.52 L149.06,794.48 L149.07,793.44 L149.08,792.40 L149.09,791.36 L149.11,790.32 L149.12,789.28 L149.14,788.24 L149.16,787.20 L149.18,786.16 L149.21,785.12 L149.21,784.86" stroke-dashoffset="0.00"/>
<path d="M149.21,784.86 L149.24,783.82 L149.27,782.78 L149.31,781.74 L149.35,780.70 L149.40,779.66 L149.45,778.62 L149.50,777.58 L149.55,776.54 L149.61,775.50 L149.67,774.46 L149.74,773.42 L149.81,772.38 L149.87,771.35 L149.95,770.31 L150.02,769.27 L150.09,768.23 L150.15,767.19 L150.19,766.67" stroke-dashoffset="0.00"/>
<path d="M150.19,766.67 L150.26,765.63 L150.33,764.60 L150.41,763.56 L150.51,762.52 L150.61,761.49 L150.73,760.46 L150.87,759.43 L151.02,758.40 L151.18,757.37 L151.36,756.35 L151.54,755.32 L151.73,754.30 L151.93,753.28 L152.14,752.27 L152.37,751.25 L152.60,750.24 L152.85,749.24 L153.11,748.23 L153.37,747.23 L153.66,746.23 L153.95,745.24 L154.26,744.25 L154.59,743.27 L154.94,742.30 L155.32,741.34 L155.73,740.40 L156.17,739.47 L156.64,738.55 L157.13,737.66 L157.66,736.78 L158.22,735.93 L158.80,735.09 L159.40,734.26 L160.00,733.44 L160.62,732.64 L161.26,731.85 L161.93,731.09 L162.62,730.35 L163.34,729.65 L164.09,728.99 L164.88,728.37 L165.92,727.68 L166.99,727.04 L168.08,726.46 L169.18,725.90 L170.30,725.37 L171.42,724.85 L172.54,724.32 L173.66,723.79 L174.77,723.26 L175.90,722.75 L177.04,722.28 L178.20,721.86 L179.37,721.50 L180.56,721.19 L181.76,720.92 L182.96,720.68 L184.17,720.47 L185.38,720.27 L186.59,720.08 L187.80,719.89 L189.01,719.70 L190.22,719.50 L191.42,719.30 L192.63,719.09 L193.84,718.88 L195.05,718.66 L196.25,718.45 L197.46,718.25 L198.67,718.04 L199.88,717.84 L201.09,717.64 L202.30,717.45 L203.51,717.27 L204.72,717.09 L205.93,716.92 L207.14,716.74 L208.36,716.58 L209.57,716.41 L210.79,716.26 L212.00,716.11 L213.22,715.97 L214.43,715.83 L215.65,715.71 L216.87,715.60 L218.09,715.50 L219.31,715.41 L220.53,715.33 L221.75,715.26 L222.97,715.19 L224.20,715.13 L225.42,715.07 L226.64,715.01 L227.86,714.96 L229.08,714.90 L230.31,714.84 L231.53,714.78 L232.75,714.73 L233.97,714.68 L235.20,714.63 L236.42,714.58 L237.64,714.54 L238.86,714.50 L239.11,714.49" stroke-dashoffset="0.00"/>
<path d="M239.11,714.49 L240.33,714.45 L241.55,714.43 L242.78,714.40 L244.00,714.37 L245.22,714.35 L246.45,714.31 L247.67,714.27 L248.89,714.22 L250.11,714.16 L251.34,714.10 L252.56,714.03 L253.78,713.97 L255.00,713.92 L256.22,713.88 L256.71,713.87" stroke-dashoffset="0.00"/>
<path d="M256.71,713.87 L257.94,713.85 L259.16,713.84 L260.38,713.84 L261.61,713.85 L262.83,713.86 L264.05,713.87 L265.28,713.87 L266.50,713.86 L267.72,713.83 L268.95,713.81 L270.17,713.79 L271.39,713.80 L272.62,713.84 L273.10,713.87" stroke-dashoffset="0.00"/>
<path d="M273.10,713.87 L274.32,713.98 L275.54,714.14 L276.75,714.32 L277.96,714.52 L279.17,714.71 L280.38,714.87 L281.60,715.00 L282.82,715.08 L284.04,715.14 L285.26,715.17 L286.49,715.19 L287.71,715.20 L288.93,715.20 L290.16,715.21 L291.14,715.22" stroke-dashoffset="0.00"/>
<path d="M291.14,715.22 L292.36,715.23 L293.58,715.24 L294.81,715.23 L296.03,715.24 L297.25,715.25 L298.48,715.29 L299.70,715.35 L300.92,715.44 L302.14,715.56 L303.35,715.70 L304.57,715.84 L305.78,715.98 L307.00,716.11 L308.22,716.22 L308.95,716.27" stroke-dashoffset="0.00"/>
<path d="M308.95,716.27 L310.18,716.33 L311.40,716.36 L312.62,716.38 L313.84,716.39 L315.07,716.41 L316.29,716.44 L317.51,716.49 L318.74,716.54 L319.96,716.59 L321.18,716.64 L322.40,716.70 L323.62,716.77 L324.84,716.85 L326.07,716.94 L327.28,717.06 L328.50,717.19 L329.71,717.35 L330.93,717.53 L332.14,717.73 L333.34,717.94 L334.55,718.16 L335.75,718.40 L336.95,718.65 L338.15,718.91 L339.35,719.17 L340.54,719.44 L341.74,719.72 L342.93,720.00 L344.13,720.29 L345.32,720.58 L346.51,720.89 L347.70,721.20 L348.88,721.52 L350.06,721.85 L351.25,722.19 L352.43,722.53 L353.61,722.87 L354.79,723.22 L355.96,723.56 L357.14,723.91 L358.32,724.25 L359.51,724.59 L360.69,724.93 L361.87,725.27 L363.05,725.61 L364.23,725.95 L365.41,726.29 L366.59,726.64 L367.77,726.98 L368.95,727.33 L370.13,727.68 L371.31,728.02 L372.48,728.37 L373.66,728.72 L374.84,729.07 L376.02,729.43 L377.19,729.78 L378.37,730.14 L379.55,730.50 L380.72,730.85 L381.90,731.21 L383.07,731.57 L384.25,731.93 L385.43,732.29 L386.60,732.65 L387.78,733.01 L388.95,733.37 L390.13,733.73 L391.30,734.10 L392.48,734.46 L393.65,734.82 L394.83,735.19 L396.00,735.54 L397.18,735.90 L398.36,736.26 L399.54,736.60 L400.72,736.94 L401.90,737.28 L403.08,737.61 L404.26,737.94 L405.45,738.27 L406.63,738.60 L407.82,738.93 L409.00,739.26 L410.18,739.60 L411.36,739.94 L412.54,740.29 L413.71,740.64 L414.89,741.02 L416.05,741.41 L417.21,741.83 L418.36,742.29 L419.49,742.77 L420.62,743.28 L421.75,743.77 L422.89,744.25 L424.04,744.67 L424.75,744.90" stroke-dashoffset="0.00"/>
<path d="M424.75,744.90 L425.94,745.21 L427.14,745.45 L428.34,745.66 L429.55,745.85 L430.76,746.06 L431.96,746.32 L433.15,746.62 L434.34,746.94 L435.52,747.28 L436.69,747.64 L437.87,748.01 L439.04,748.38 L439.50,748.54" stroke-dashoffset="0.00"/>
<path d="M439.50,748.54 L440.67,748.95 L441.81,749.40 L442.96,749.85 L444.11,750.31 L445.26,750.74 L446.43,751.13 L447.61,751.47 L448.80,751.76 L450.00,752.01 L451.21,752.23 L452.41,752.45 L453.62,752.66 L454.83,752.87 L456.03,753.11" stroke-dashoffset="0.00"/>
<path d="M456.03,753.11 L457.23,753.35 L458.43,753.60 L459.63,753.86 L460.83,754.11 L462.03,754.37 L463.23,754.64 L464.42,754.90 L465.62,755.16 L466.82,755.42 L468.02,755.69 L469.21,755.99 L470.39,756.32 L470.86,756.46" stroke-dashoffset="0.00"/>
<path d="M470.86,756.46 L472.03,756.86 L473.17,757.31 L474.31,757.79 L475.45,758.27 L476.59,758.73 L477.75,759.14 L478.93,759.48 L480.13,759.73 L481.35,759.92 L482.56,760.06 L483.78,760.18 L485.00,760.31 L485.73,760.39" stroke-dashoffset="0.00"/>
<path d="M485.73,760.39 L486.94,760.53 L488.16,760.64 L489.38,760.76 L490.60,760.89 L491.81,761.04 L493.02,761.22 L494.23,761.45 L495.43,761.70 L496.63,761.97 L497.82,762.25 L499.01,762.54 L500.21,762.83 L501.40,763.11 L502.59,763.39" stroke-dashoffset="0.00"/>
<path d="M502.59,763.39 L503.79,763.65 L504.99,763.91 L506.19,764.17 L507.39,764.43 L508.59,764.67 L509.79,764.91 L511.00,765.14 L512.20,765.36 L513.41,765.58 L514.62,765.80 L515.82,766.01 L517.03,766.22 L518.23,766.44 L519.44,766.67 L519.68,766.71" stroke-dashoffset="0.00"/>
<path d="M519.68,766.71 L520.88,766.94 L522.09,767.19 L523.29,767.43 L524.49,767.68 L525.69,767.92 L526.90,768.14 L528.10,768.36 L529.31,768.56 L530.52,768.76 L531.73,768.95 L532.94,769.14 L534.15,769.32 L535.36,769.51 L536.57,769.69 L537.79,769.87 L539.00,770.05 L540.21,770.23 L541.42,770.42 L542.63,770.60 L543.84,770.78 L545.05,770.95 L546.27,771.13 L547.48,771.31 L548.69,771.48 L549.90,771.66 L551.11,771.84 L552.33,772.02 L553.54,772.20 L554.75,772.38 L555.96,772.57 L557.17,772.75 L558.38,772.94 L559.59,773.13 L560.80,773.32 L562.01,773.52 L563.22,773.71 L564.43,773.91 L565.64,774.10 L566.85,774.30 L568.06,774.50 L569.27,774.70 L570.47,774.89 L571.68,775.09 L572.89,775.29 L574.10,775.49 L575.31,775.70 L576.52,775.90 L577.73,776.11 L578.93,776.32 L580.14,776.52 L581.35,776.73 L582.56,776.94 L583.76,777.14 L584.97,777.35 L586.18,777.55 L587.39,777.74 L588.60,777.94 L589.81,778.13 L591.02,778.31 L592.23,778.48 L593.45,778.66 L594.66,778.82 L595.87,778.99 L597.09,779.15 L598.30,779.31 L599.52,779.47 L600.73,779.63 L601.94,779.79 L603.16,779.95 L604.37,780.12 L605.58,780.28 L606.80,780.46 L608.01,780.64 L609.22,780.83 L610.43,781.02 L611.64,781.22 L612.84,781.43 L614.05,781.63 L615.26,781.83 L616.47,782.03 L617.68,782.23" stroke-dashoffset="0.00"/>
<path d="M617.68,782.23 L618.89,782.42 L620.10,782.62 L621.31,782.81 L622.52,783.01 L623.73,783.19 L624.94,783.35 L626.16,783.49 L627.38,783.61 L628.60,783.69 L629.82,783.76 L631.04,783.82 L632.26,783.89 L633.48,783.97 L634.70,784.08 L635.67,784.20" stroke-dashoffset="0.00"/>
<path d="M635.67,784.20 L636.88,784.42 L638.08,784.69 L639.27,784.99 L640.46,785.30 L641.65,785.57 L642.86,785.78 L644.08,785.90 L645.30,785.96 L646.52,785.96 L647.75,785.93 L648.97,785.88 L650.19,785.81 L651.41,785.75 L652.63,785.69 L653.86,785.66" stroke-dashoffset="0.00"/>
<path d="M653.86,785.66 L655.08,785.65 L656.30,785.65 L657.53,785.65 L658.75,785.65 L659.97,785.66 L661.20,785.66 L662.42,785.66 L663.64,785.64 L664.87,785.61 L666.09,785.59 L667.31,785.57 L668.54,785.58 L669.76,785.62 L670.49,785.67" stroke-dashoffset="0.00"/>
<path d="M670.49,785.67 L671.71,785.80 L672.92,785.98 L674.13,786.20 L675.33,786.42 L676.54,786.62 L677.75,786.79 L678.97,786.92 L680.19,787.02 L681.41,787.09 L682.63,787.17 L683.85,787.24 L685.07,787.32 L686.29,787.43 L687.51,787.57 L687.99,787.63" stroke-dashoffset="0.00"/>
<path d="M687.99,787.63 L689.20,787.85 L690.40,788.13 L691.58,788.44 L692.77,788.75 L693.97,789.03 L695.17,789.26 L696.39,789.41 L697.61,789.49 L698.83,789.53 L700.05,789.56 L701.27,789.58 L702.50,789.63 L703.72,789.72 L704.45,789.81" stroke-dashoffset="0.00"/>
<path d="M704.45,789.81 L705.65,790.02 L706.85,790.29 L708.04,790.61 L709.22,790.94 L710.41,791.25 L711.60,791.52 L712.81,791.73 L714.03,791.87 L715.25,791.97 L716.47,792.03 L717.69,792.08 L718.91,792.13 L720.14,792.18 L721.36,792.25 L722.33,792.33" stroke-dashoffset="0.00"/>
<path d="M722.33,792.33 L723.55,792.43 L724.77,792.54 L725.99,792.66 L727.21,792.78 L728.43,792.91 L729.64,793.03 L730.86,793.16 L732.08,793.29 L733.30,793.41 L734.51,793.54 L735.73,793.67 L736.95,793.80 L738.17,793.92 L739.38,794.05 L740.60,794.17 L741.82,794.29 L743.04,794.40 L744.26,794.51 L745.48,794.62 L746.70,794.72 L747.92,794.82 L749.14,794.91 L750.36,795.01 L751.58,795.10 L752.80,795.19 L754.02,795.28 L755.24,795.37 L756.46,795.46 L757.68,795.55 L758.90,795.64 L760.12,795.73 L761.34,795.83 L762.56,795.93 L763.78,796.04 L765.00,796.16 L766.21,796.28 L767.43,796.40 L768.65,796.52 L769.87,796.63 L771.09,796.74 L772.31,796.84 L773.53,796.93 L774.75,797.00 L774.99,797.01" stroke-dashoffset="0.00"/>
<path d="M774.99,797.01 L776.22,797.04 L777.44,797.03 L778.66,797.01 L779.89,796.98 L781.11,796.96 L782.33,796.97 L783.55,797.02 L784.78,797.11 L785.99,797.24 L787.21,797.38 L788.42,797.54 L789.64,797.69 L790.85,797.84 L792.07,797.96 L793.29,798.04" stroke-dashoffset="0.00"/>
<path d="M793.29,798.04 L794.51,798.09 L795.74,798.11 L796.96,798.10 L798.18,798.08 L799.41,798.06 L800.63,798.05 L801.85,798.04 L803.08,798.02 L804.30,798.00 L805.52,797.97 L806.75,797.95 L807.97,797.94 L809.19,797.96 L810.42,798.00 L811.15,798.05" stroke-dashoffset="0.00"/>
<path d="M811.15,798.05 L812.37,798.18 L813.58,798.37 L814.78,798.59 L815.99,798.82 L817.19,799.03 L818.40,799.20 L819.62,799.31 L820.85,799.37 L822.07,799.39 L823.29,799.39 L824.51,799.37 L825.74,799.34 L826.96,799.32 L828.18,799.30 L828.92,799.29" stroke-dashoffset="0.00"/>
<path d="M828.92,799.29 L830.14,799.28 L831.36,799.26 L832.59,799.23 L833.81,799.21 L835.03,799.21 L836.26,799.25 L837.48,799.32 L838.70,799.44 L839.91,799.61 L841.12,799.79 L842.33,799.98 L843.54,800.17 L844.75,800.34 L845.97,800.48 L846.70,800.54" stroke-dashoffset="0.00"/>
<path d="M846.70,800.54 L847.92,800.60 L849.15,800.61 L850.37,800.61 L851.59,800.58 L852.82,800.56 L854.04,800.54 L855.26,800.55 L856.49,800.58 L857.71,800.62 L858.44,800.65" stroke-dashoffset="0.00"/>
</g>
<path d="M150.00,1222.00 L150.01,1166.54 L150.00,1107.21 L149.99,1046.34 L149.98,986.23 L149.98,929.23 L150.00,877.64 L150.04,833.79 L150.10,800.00 L150.13,790.42 L150.15,781.81 L150.18,774.08 L150.20,767.11 L150.24,760.83 L150.28,755.11 L150.33,749.87 L150.40,745.00 L150.44,742.65 L150.49,740.49 L150.54,738.50 L150.59,736.65 L150.64,734.90 L150.70,733.23 L150.75,731.61 L150.80,730.00 L150.83,728.81 L150.84,727.68 L150.84,726.58 L150.84,725.52 L150.86,724.49 L150.90,723.48 L150.98,722.49 L151.10,721.50 L151.24,720.63 L151.40,719.76 L151.58,718.90 L151.78,718.06 L152.00,717.25 L152.24,716.46 L152.51,715.71 L152.80,715.00 L153.06,714.44 L153.34,713.91 L153.63,713.41 L153.94,712.92 L154.27,712.45 L154.60,711.99 L154.95,711.54 L155.30,711.10 L155.66,710.66 L156.03,710.20 L156.41,709.74 L156.80,709.29 L157.20,708.88 L157.60,708.52 L158.00,708.22 L158.40,708.00 L158.69,707.89 L158.99,707.82 L159.29,707.78 L159.59,707.76 L159.88,707.77 L160.17,707.80 L160.44,707.84 L160.70,707.90 L160.91,707.98 L161.10,708.10 L161.28,708.24 L161.45,708.39 L161.63,708.53 L161.81,708.66 L162.00,708.75 L162.20,708.80 L162.46,708.78 L162.73,708.69 L163.01,708.55 L163.29,708.39 L163.59,708.22 L163.89,708.07 L164.19,707.96 L164.50,707.90 L164.85,707.90 L165.21,707.93 L165.57,707.99 L165.95,708.08 L166.32,708.19 L166.69,708.32 L167.05,708.46 L167.40,708.60 L167.74,708.76 L168.07,708.95 L168.40,709.15 L168.72,709.37 L169.04,709.59 L169.36,709.81 L169.68,710.04 L170.00,710.25 L171.00,710.81 L172.00,711.42 L173.00,712.08 L174.00,712.78 L175.00,713.52 L176.00,714.30 L177.00,715.12 L178.00,715.98 L179.00,716.87 L180.00,717.80 L181.00,718.76 L182.00,719.74 L183.00,720.76 L184.00,721.80 L185.00,722.87 L186.00,723.97 L187.00,725.08 L188.00,726.22 L189.00,727.37 L190.00,728.54 L191.00,729.73 L192.00,730.93 L193.00,732.14 L194.00,733.36 L195.00,734.59 L196.00,735.83 L197.00,737.07 L198.00,738.32 L199.00,739.57 L200.00,740.82 L201.00,742.07 L202.00,743.32 L203.00,744.57 L204.00,745.82 L205.00,747.07 L206.00,748.31 L207.00,749.56 L208.00,750.81 L209.00,752.05 L210.00,753.30 L211.00,754.54 L212.00,755.79 L213.00,757.03 L214.00,758.27 L215.00,759.51 L216.00,760.75 L217.00,761.99 L218.00,763.23 L219.00,764.47 L220.00,765.71 L221.00,766.95 L222.00,768.18 L223.00,769.42 L224.00,770.65 L225.00,771.89 L226.00,773.12 L227.00,774.35 L228.00,775.58 L229.00,776.81 L230.00,778.04 L231.00,779.27 L232.00,780.49 L233.00,781.72 L234.00,782.93 L235.00,784.15 L236.00,785.36 L237.00,786.57 L238.00,787.77 L239.00,788.96 L240.00,790.15 L241.00,791.32 L242.00,792.49 L243.00,793.66 L244.00,794.81 L245.00,795.95 L246.00,797.08 L247.00,798.20 L248.00,799.31 L249.00,800.40 L250.00,801.48 L251.00,802.55 L252.00,803.60 L253.00,804.64 L254.00,805.67 L255.00,806.68 L256.00,807.68 L257.00,808.67 L258.00,809.65 L259.00,810.62 L260.00,811.57 L261.00,812.52 L262.00,813.45 L263.00,814.38 L264.00,815.29 L265.00,816.20 L266.00,817.09 L267.00,817.98 L268.00,818.86 L269.00,819.72 L270.00,820.59 L271.00,821.44 L272.00,822.29 L273.00,823.12 L274.00,823.96 L275.00,824.78 L276.00,825.60 L277.00,826.42 L278.00,827.23 L279.00,828.04 L280.00,828.85 L281.00,829.66 L282.00,830.46 L283.00,831.27 L284.00,832.08 L285.00,832.89 L286.00,833.70 L287.00,834.52 L288.00,835.35 L289.00,836.18 L290.00,837.01 L291.00,837.86 L292.00,838.71 L293.00,839.57 L294.00,840.45 L295.00,841.33 L296.00,842.23 L297.00,843.14 L298.00,844.06 L299.00,845.00 L300.00,845.95 L313.30,855.60 L326.70,865.20 L340.00,872.60 L353.30,880.70 L366.70,888.10 L380.00,894.80 L396.30,902.20 L412.60,908.90 L426.00,914.30 L430.00,916.20 L448.00,922.40 L466.00,928.90 L484.00,934.10 L502.00,939.50 L512.70,940.60 L523.50,941.90 L537.90,946.00 L555.90,951.20 L573.90,955.00 L590.00,957.40 L605.90,960.40 L621.70,962.90 L631.30,965.60 L645.60,968.00 L659.80,969.60 L667.80,971.50 L678.90,972.30 L693.20,974.00 L709.00,976.00 L724.90,977.90 L731.00,979.50 L742.70,980.70 L753.80,982.60 L764.90,983.40 L777.60,983.90 L782.40,985.80 L793.50,986.30 L806.20,987.80 L817.30,989.10 L828.40,990.20 L837.90,991.80 L852.20,992.90 L866.50,993.10 L872.90,993.40 L877.60,995.30" fill="none" stroke="#000" stroke-width="2" stroke-linejoin="round"/>
<rect x="150.0" y="669.5" width="728.0" height="552.5" fill="none" stroke="#000" stroke-width="2"/>
<line x1="150.0" y1="1111.50" x2="162.5" y2="1111.50" stroke="#000" stroke-width="2"/>
<line x1="150.0" y1="1001.00" x2="162.5" y2="1001.00" stroke="#000" stroke-width="2"/>
<line x1="150.0" y1="890.50" x2="162.5" y2="890.50" stroke="#000" stroke-width="2"/>
<line x1="150.0" y1="780.00" x2="162.5" y2="780.00" stroke="#000" stroke-width="2"/>
<line x1="271.33" y1="1222.0" x2="271.33" y2="1210.0" stroke="#000" stroke-width="2"/>
<line x1="392.67" y1="1222.0" x2="392.67" y2="1210.0" stroke="#000" stroke-width="2"/>
<line x1="514.00" y1="1222.0" x2="514.00" y2="1210.0" stroke="#000" stroke-width="2"/>
<line x1="635.33" y1="1222.0" x2="635.33" y2="1210.0" stroke="#000" stroke-width="2"/>
<line x1="756.67" y1="1222.0" x2="756.67" y2="1210.0" stroke="#000" stroke-width="2"/>
<text x="137.8" y="686.5" text-anchor="end">1.0</text>
<text x="137.8" y="793.2" text-anchor="end">0.8</text>
<text x="137.8" y="900.3" text-anchor="end">0.6</text>
<text x="137.8" y="1007.2" text-anchor="end">0.4</text>
<text x="137.8" y="1114.0" text-anchor="end">0.2</text>
<text x="137.8" y="1221.8" text-anchor="end">0</text>
<text x="150.5" y="1257" text-anchor="middle">0</text>
<text x="271.8" y="1257" text-anchor="middle">100</text>
<text x="393.2" y="1257" text-anchor="middle">200</text>
<text x="514.5" y="1257" text-anchor="middle">300</text>
<text x="635.8" y="1257" text-anchor="middle">400</text>
<text x="757.2" y="1257" text-anchor="middle">500</text>
<text x="878.5" y="1257" text-anchor="middle">600</text>
<text x="18" y="686">(b)</text>
<text x="513.5" y="1292.5" text-anchor="middle">Current (mA)</text>
<text transform="translate(46,964.6) rotate(-90) scale(1,1.04)" text-anchor="middle">IQE</text>
<line x1="622" y1="1147.2" x2="692" y2="1147.2" stroke="#000" stroke-width="2"/>
<line x1="622" y1="1182.5" x2="692" y2="1182.5" stroke="#ff0000" stroke-width="2" stroke-dasharray="8.4 10"/>
<text x="698.3" y="1156.6" font-size="33.7">Structure A</text>
<text x="698.3" y="1191.2" font-size="33.7">Structure B</text>
</g></svg>
</body></html>
